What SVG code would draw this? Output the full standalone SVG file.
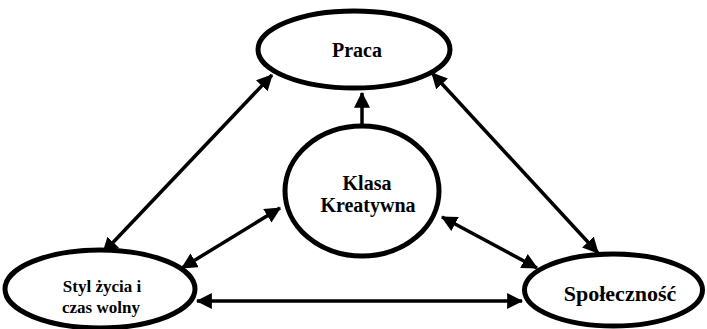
<svg xmlns="http://www.w3.org/2000/svg" width="707" height="329" viewBox="0 0 707 329">
<style>
.node{fill:#fff;stroke:#000;stroke-width:5}
.lbl{font-family:"Liberation Serif","Times New Roman",serif;font-weight:bold;fill:#000;text-anchor:middle}
.con{stroke:#000;stroke-width:3.5;fill:none}
</style>
<defs>
<marker id="ah" markerUnits="userSpaceOnUse" markerWidth="16" markerHeight="16" viewBox="0 0 14 14" refX="13" refY="7" orient="auto-start-reverse">
<path d="M0,0 L14,7 L0,14 Z" fill="#000"/>
</marker>
</defs>
<rect width="707" height="329" fill="#fff"/>
<g id="connectors">
<line class="con" x1="272" y1="75" x2="103" y2="253" marker-start="url(#ah)" marker-end="url(#ah)"/>
<line class="con" x1="432" y1="73" x2="598" y2="253" marker-start="url(#ah)" marker-end="url(#ah)"/>
<line class="con" x1="280" y1="208" x2="182" y2="268" marker-start="url(#ah)" marker-end="url(#ah)"/>
<line class="con" x1="442" y1="217" x2="537" y2="268" marker-start="url(#ah)" marker-end="url(#ah)"/>
<line class="con" x1="197" y1="301" x2="522" y2="301" marker-start="url(#ah)" marker-end="url(#ah)"/>
<line class="con" x1="362" y1="125" x2="362" y2="93" marker-end="url(#ah)"/>
</g>
<g id="praca">
<ellipse class="node" cx="354" cy="49.5" rx="96" ry="38.5"/>
<text class="lbl" x="357" y="57" font-size="20">Praca</text>
</g>
<g id="klasa">
<ellipse class="node" cx="362" cy="191" rx="77" ry="65"/>
<text class="lbl" x="367" y="190" font-size="20">Klasa</text>
<text class="lbl" x="368" y="212" font-size="20">Kreatywna</text>
</g>
<g id="styl">
<ellipse class="node" cx="100" cy="289" rx="95" ry="39"/>
<text class="lbl" x="102" y="292" font-size="17">Styl życia i</text>
<text class="lbl" x="101" y="313" font-size="17">czas wolny</text>
</g>
<g id="spolecznosc">
<ellipse class="node" cx="613.5" cy="290" rx="89" ry="36"/>
<text class="lbl" x="620" y="301" font-size="22">Społeczność</text>
</g>
</svg>
